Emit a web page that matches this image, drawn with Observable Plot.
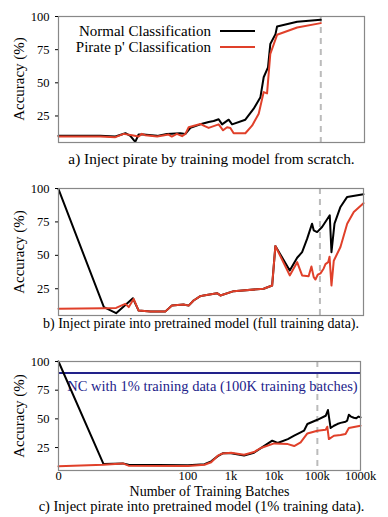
<!DOCTYPE html>
<html>
<head>
<meta charset="utf-8">
<script src="https://cdn.jsdelivr.net/npm/d3@7"></script>
<script src="https://cdn.jsdelivr.net/npm/@observablehq/plot@0.6"></script>
<style>
  html, body { margin: 0; padding: 0; background: #fff; }
  #wrap { position: relative; width: 388px; height: 517px; font-family: "Liberation Serif", serif; }
  .panel { position: absolute; left: 0; font-family: "Liberation Serif", serif; }
  .panel text { font-family: "Liberation Serif", serif; }
  .leg { position: absolute; left: 0; width: 211px; text-align: right; font-family: "Liberation Serif", serif; font-size: 15px; line-height: 16px; color: #000; white-space: nowrap; }
  .sw { position: absolute; left: 220px; width: 35px; height: 2.5px; }
  .ylab { position: absolute; width: 120px; height: 16px; line-height: 16px; text-align: center; font-family: "Liberation Serif", serif; font-size: 15px; color: #000; white-space: nowrap; transform: rotate(-90deg); transform-origin: 50% 50%; }
</style>
</head>
<body>
<div id="wrap"></div>
<script>
// ---------- data (x = number of training batches, y = accuracy %) ----------
const RED = "#e0402a", BLACK = "#000000", NAVY = "#22228a", DASH = "#bbbbbb";

const seriesNames = ["Normal Classification", "Pirate p' Classification"];
const injectBatch = 100000;           // dashed marker
const ncOnePercent = 90;              // NC with 1% training data
const ncLabel = "NC with 1% training data (100K training batches)";
const yTicks = [25, 50, 75, 100];
const xTickValues = [0, 100, 1000, 10000, 100000, 1000000];
const xTickLabels = ["0", "100", "1k", "10k", "100k", "1000k"];
const captions = [
  "a) Inject pirate by training model from scratch.",
  "b) Inject pirate into pretrained model (full training data).",
  "c) Inject pirate into pretrained model (1% training data)."
];
const xLabel = "Number of Training Batches";
const yLabel = "Accuracy (%)";

// panel a
const aNormalX = [0, 0.8, 1.9, 3.3, 4.3, 5.6, 6.7, 8.7, 18, 30, 61, 80, 104, 176, 272, 354, 461, 552, 781, 935, 1880, 2920, 4160, 4940, 6200, 7000, 9200, 10000, 28800, 100000];
const aNormalY = [10, 10, 9.5, 12, 10, 5.5, 11, 11, 10, 11.5, 12, 11.5, 16, 18.7, 20.5, 21.2, 22.5, 18.7, 22.2, 18.7, 22.2, 30.5, 39.2, 54.2, 61.7, 79.2, 86.7, 92.5, 96, 97.5];
const aPirateX = [0, 0.8, 1.9, 3.0, 4.7, 6.7, 8.0, 9.6, 18, 33, 39, 51, 67, 80, 95, 176, 209, 272, 461, 582, 718, 855, 1016, 1880, 2680, 3800, 4940, 5900, 7000, 10000, 28800, 100000];
const aPirateY = [9.5, 9.5, 9, 11.5, 10.5, 9.5, 11.5, 10.5, 9.5, 11, 9.5, 11.5, 9.8, 11.5, 16.5, 19, 17.7, 16, 18.7, 14.2, 16.5, 16, 12, 12, 17.7, 26.7, 43, 42, 71.7, 86.2, 91.7, 95];

// panel b
const bNormalX = [0, 1, 2, 5, 6.8, 12.7, 28, 40, 74, 97, 126, 180, 214, 435, 519, 1050, 5100, 8000, 9500, 20300, 30000, 39000, 51000, 66000, 72000, 86000, 112000, 168000, 184000, 216000, 296000, 422000, 1000000];
const bNormalY = [99.5, 11.2, 6.7, 17.9, 8.7, 8, 7.9, 12.4, 13.2, 12.4, 16.2, 19.5, 20, 21.7, 20, 23.2, 25, 27.4, 57, 38.7, 48.2, 52.4, 62.5, 73.7, 68.7, 67.4, 71.2, 80, 52.4, 73.7, 86.2, 93.7, 95.7];
const bPirateX = [0, 1, 2, 3.3, 4, 5.2, 6.8, 12.7, 28, 40, 74, 97, 126, 180, 214, 435, 519, 1050, 5100, 8000, 9500, 20300, 30000, 39000, 55000, 63800, 72000, 79000, 89000, 103000, 122000, 134000, 155000, 166000, 184000, 208000, 296000, 422000, 598000, 1000000];
const bPirateY = [10, 10.5, 10.7, 13.7, 11.3, 17.4, 8.7, 8, 7.9, 12.4, 13.2, 12.4, 16.2, 19.5, 20, 21.7, 20, 23.2, 25, 27.4, 57, 35, 44.9, 35, 34.4, 41.7, 33.7, 31.9, 35.5, 36.5, 40.2, 43.4, 44.9, 49, 27.4, 46, 56.2, 73.7, 82.4, 89];

// panel c
const cNormalX = [0, 1, 3, 4.1, 100, 242, 345, 493, 640, 1000, 2000, 3400, 4900, 9000, 12000, 20700, 29000, 41000, 49000, 58700, 100000, 156000, 176000, 203000, 242000, 290000, 345000, 450000, 492000, 537000, 600000, 700000, 800000, 900000, 1000000];
const cNormalY = [100, 10.7, 11.2, 10, 9.5, 10.5, 13, 17.5, 20, 20, 18, 20.5, 24.5, 31, 29, 32.4, 35.3, 38.2, 39.7, 45.5, 49.2, 52.7, 57.7, 42, 44, 45.5, 46.5, 47.5, 48.5, 53.6, 52, 51, 50.5, 52, 51.3];
const cPirateX = [0, 1, 3, 4.1, 100, 242, 345, 493, 640, 1000, 2000, 3400, 4900, 10000, 20700, 29000, 41000, 58700, 100000, 156000, 170000, 185000, 242000, 345000, 450000, 537000, 1000000];
const cPirateY = [8.6, 10, 11.2, 9.2, 8.9, 10, 12.2, 17.9, 19.9, 20.5, 18.8, 21.1, 24.6, 28.6, 28, 26.3, 29.5, 37.3, 39.7, 40.5, 43.2, 32.4, 35.3, 35.9, 36.8, 42, 44];

// ---------- drawing ----------
const rows = (xs, ys) => xs.map((x, i) => ({x, y: ys[i]}));
const FONT = "Liberation Serif";

function panel({height, marginTop, marginBottom, marginRight, normal, pirate, extra = [], xAxis = false, caption, captionDy, captionDx, captionSize}) {
  const marks = [
    Plot.ruleX([injectBatch], {stroke: DASH, strokeWidth: 2, strokeDasharray: "6,5"}),
    ...extra,
    Plot.line(normal, {x: "x", y: "y", stroke: BLACK, strokeWidth: 2, strokeLinejoin: "round"}),
    Plot.line(pirate, {x: "x", y: "y", stroke: RED, strokeWidth: 2, strokeLinejoin: "round"}),
    Plot.frame({stroke: "#888", strokeWidth: 1.2}),
    Plot.axisY({ticks: yTicks, tickSize: 3, tickPadding: 6, fontSize: 12.5, fontFamily: FONT, label: null}),
    Plot.text([caption], {text: d => d, frameAnchor: "bottom", dy: captionDy, dx: captionDx, fontSize: captionSize, fontFamily: FONT})
  ];
  if (xAxis) {
    marks.push(Plot.axisX({ticks: xTickValues, tickFormat: d => xTickLabels[xTickValues.indexOf(d)], tickSize: 0, tickPadding: 1, fontSize: 12.5, fontFamily: FONT, label: null}));
    marks.push(Plot.text([xLabel], {text: d => d, frameAnchor: "bottom", dy: 25.5, fontSize: 14, fontFamily: FONT}));
  }
  return Plot.plot({
    width: 388, height, marginLeft: 58, marginRight, marginTop, marginBottom,
    x: {type: "symlog", constant: 0.1, domain: [0, 1e6], axis: xAxis ? undefined : null},
    y: {domain: [5, 100]},
    style: {fontFamily: FONT, fontSize: "13px", color: "#000", background: "transparent", overflow: "visible"},
    marks
  });
}

const wrap = document.getElementById("wrap");

const cfgA = {top: 0, height: 170, marginTop: 16, marginBottom: 28, marginRight: 24,
  normal: rows(aNormalX, aNormalY), pirate: rows(aPirateX, aPirateY),
  caption: captions[0], captionDy: 21, captionDx: 0, captionSize: 15.3};
const cfgB = {top: 170, height: 170, marginTop: 18, marginBottom: 25, marginRight: 25,
  normal: rows(bNormalX, bNormalY), pirate: rows(bPirateX, bPirateY),
  caption: captions[1], captionDy: 12, captionDx: -10, captionSize: 14};
const cfgC = {top: 340, height: 177, marginTop: 21, marginBottom: 47, marginRight: 28,
  normal: rows(cNormalX, cNormalY), pirate: rows(cPirateX, cPirateY),
  extra: [
    Plot.ruleY([ncOnePercent], {stroke: NAVY, strokeWidth: 2}),
    Plot.text([ncLabel], {text: d => d, frameAnchor: "top", dy: 19.5, dx: 3, fill: NAVY, fontSize: 14.5, fontFamily: FONT})
  ],
  xAxis: true, caption: captions[2], captionDy: 40.3, captionDx: -8, captionSize: 14.5};

[cfgA, cfgB, cfgC].forEach(cfg => {
  const el = panel(cfg);
  el.classList.add("panel");
  el.style.top = cfg.top + "px";
  wrap.appendChild(el);
  // rotated y-axis title, centred on the frame
  const cy = cfg.top + cfg.marginTop + (cfg.height - cfg.marginTop - cfg.marginBottom) / 2;
  const lab = document.createElement("div");
  lab.className = "ylab";
  lab.textContent = yLabel;
  lab.style.left = (19 - 60) + "px";
  lab.style.top = (cy - 8) + "px";
  wrap.appendChild(lab);
});

// legend for panel a
[[seriesNames[0], BLACK, 31], [seriesNames[1], RED, 47]].forEach(([name, color, cy]) => {
  const t = document.createElement("div");
  t.className = "leg";
  t.style.top = (cy - 8) + "px";
  t.textContent = name;
  wrap.appendChild(t);
  const s = document.createElement("div");
  s.className = "sw";
  s.style.top = (cy - 1.25) + "px";
  s.style.background = color;
  wrap.appendChild(s);
});
</script>
</body>
</html>
